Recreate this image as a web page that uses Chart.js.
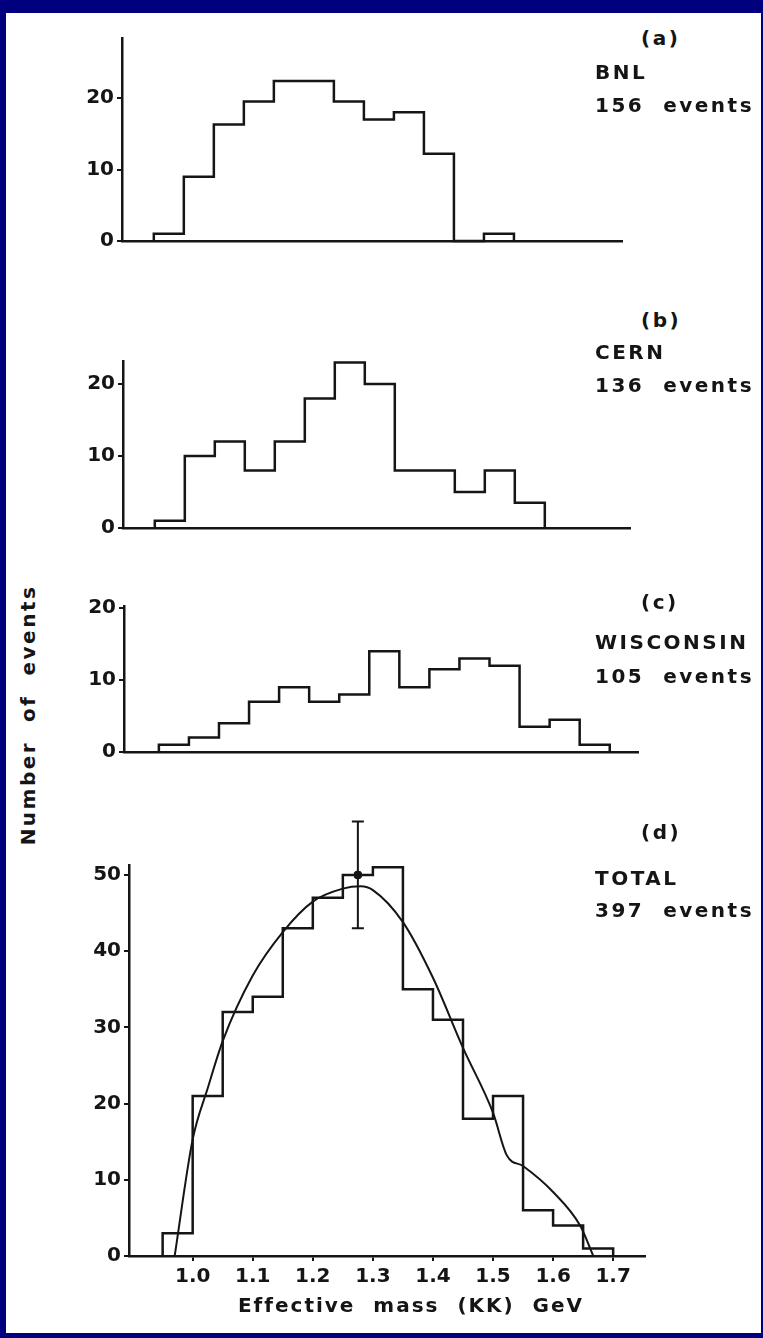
<!DOCTYPE html>
<html>
<head>
<meta charset="utf-8">
<script src="https://cdn.jsdelivr.net/npm/chart.js@4.4.0/dist/chart.umd.min.js"></script>
<style>
  html, body { margin: 0; padding: 0; }
  body { width: 763px; height: 1338px; background: #00007f; position: relative; overflow: hidden; }
  #sheet { position: absolute; left: 6px; top: 13px; width: 755px; height: 1320px; background: #fff; }
  canvas { position: absolute; }
  .lbl { position: absolute; font: bold 20px 'DejaVu Sans', sans-serif; letter-spacing: 2.5px; color: #151515; white-space: pre; line-height: 20px; }
  #ytitle { position: absolute; left: 28px; top: 715px; transform: translate(-50%, -50%) rotate(-90deg); }
  #xtitle { position: absolute; left: 411px; top: 1305px; transform: translate(-50%, -50%); letter-spacing: 2px; }
</style>
</head>
<body>
<div id="sheet"></div>
<canvas id="chartA"></canvas>
<canvas id="chartB"></canvas>
<canvas id="chartC"></canvas>
<canvas id="chartD"></canvas>

<div class="lbl" style="left:641px; top:28px;">(a)</div>
<div class="lbl" style="left:595px; top:62px;">BNL</div>
<div class="lbl" style="left:595px; top:95px;">156  events</div>

<div class="lbl" style="left:641px; top:310px;">(b)</div>
<div class="lbl" style="left:595px; top:342px;">CERN</div>
<div class="lbl" style="left:595px; top:375px;">136  events</div>

<div class="lbl" style="left:641px; top:592px;">(c)</div>
<div class="lbl" style="left:595px; top:632px;">WISCONSIN</div>
<div class="lbl" style="left:595px; top:666px;">105  events</div>

<div class="lbl" style="left:641px; top:822px;">(d)</div>
<div class="lbl" style="left:595px; top:868px;">TOTAL</div>
<div class="lbl" style="left:595px; top:900px;">397  events</div>

<div class="lbl" id="ytitle">Number  of  events</div>
<div class="lbl" id="xtitle">Effective  mass  (KK)  GeV</div>

<script>
// lower edges of the 0.05 GeV mass bins
const massBins = [0.95, 1.00, 1.05, 1.10, 1.15, 1.20, 1.25, 1.30, 1.35, 1.40, 1.45, 1.50, 1.55, 1.60, 1.65];
const binWidth = 0.05;

// events per bin
const bnlCounts = [1, 9, 16.3, 19.5, 22.4, 22.4, 19.5, 17, 18, 12.2, 0, 1];
const cernCounts = [1, 10, 12, 8, 12, 18, 23, 20, 8, 8, 5, 8, 3.5];
const wiscCounts = [1, 2, 4, 7, 9, 7, 8, 14, 9, 11.5, 13, 12, 3.5, 4.5, 1];
const totalCounts = [3, 21, 32, 34, 43, 47, 50, 51, 35, 31, 18, 21, 6, 4, 1];

// fitted curve drawn over the total
const fitMass = [0.97, 1.0, 1.025, 1.05, 1.1, 1.15, 1.2, 1.25, 1.28, 1.3, 1.35, 1.4, 1.45, 1.5, 1.523, 1.55, 1.6, 1.645, 1.667];
const fitCount = [0, 15.3, 22, 28.2, 36.8, 42.5, 46.5, 48.2, 48.5, 48.0, 43.8, 36.5, 27.3, 18.8, 13.2, 11.8, 8.4, 4.0, 0];

// the single error bar
const errMass = [1.275];
const errValue = [50];
const errLow = [43];
const errHigh = [57];

// tick labels
const smallTicks = [0, 10, 20];
const totalTicks = [0, 10, 20, 30, 40, 50];
const massTicks = [1.0, 1.1, 1.2, 1.3, 1.4, 1.5, 1.6, 1.7];

const ink = '#151515';
const tickFont = { family: 'DejaVu Sans', size: 20, weight: 'bold' };

function histPoints(counts) {
    const pts = [{ x: massBins[0], y: 0 }];
    counts.forEach((c, i) => pts.push({ x: massBins[i], y: c }));
    const end = massBins[counts.length - 1] + binWidth;
    pts.push({ x: end, y: counts[counts.length - 1] });
    pts.push({ x: end, y: 0 });
    return pts;
}

const errorBarPlugin = {
    id: 'errorBars',
    afterDatasetsDraw(chart, args, opts) {
        if (!opts.show) return;
        const { ctx, scales: { x, y } } = chart;
        ctx.save();
        ctx.strokeStyle = ink;
        ctx.lineWidth = 2;
        errMass.forEach((m, i) => {
            const px = x.getPixelForValue(m);
            const lo = y.getPixelForValue(errLow[i]);
            const hi = y.getPixelForValue(errHigh[i]);
            ctx.beginPath();
            ctx.moveTo(px, lo); ctx.lineTo(px, hi);
            ctx.moveTo(px - 6, lo); ctx.lineTo(px + 6, lo);
            ctx.moveTo(px - 6, hi); ctx.lineTo(px + 6, hi);
            ctx.stroke();
        });
        ctx.restore();
    }
};

function makePanel(id, box, counts, extra) {
    const yw = 60, padRight = 14;
    const padTop = extra ? 60 : 20;
    const xh = box.showX ? 50 : 6;
    const canvas = document.getElementById(id);
    const w = box.right - box.left + yw + padRight;
    const h = box.bottom - box.top + padTop + xh;
    canvas.width = w; canvas.height = h;
    canvas.style.left = (box.left - yw) + 'px';
    canvas.style.top = (box.top - padTop) + 'px';
    canvas.style.width = w + 'px';
    canvas.style.height = h + 'px';

    const datasets = [{
        type: 'line',
        data: histPoints(counts),
        stepped: true,
        borderColor: ink,
        borderWidth: 2.5,
        pointRadius: 0,
        fill: false,
        clip: false
    }];
    if (extra) {
        datasets.push({
            type: 'line',
            data: fitMass.map((m, i) => ({ x: m, y: fitCount[i] })),
            borderColor: ink,
            borderWidth: 2,
            pointRadius: 0,
            cubicInterpolationMode: 'monotone',
            fill: false
        });
        datasets.push({
            type: 'scatter',
            data: errMass.map((m, i) => ({ x: m, y: errValue[i] })),
            pointRadius: 4,
            pointBackgroundColor: ink,
            pointBorderColor: ink,
            clip: false
        });
    }

    return new Chart(canvas, {
        type: 'line',
        data: { datasets: datasets },
        plugins: [errorBarPlugin],
        options: {
            responsive: false,
            animation: false,
            layout: { padding: { top: padTop, right: padRight, left: 0, bottom: 0 } },
            plugins: {
                legend: { display: false },
                tooltip: { enabled: false },
                errorBars: { show: !!extra }
            },
            scales: {
                x: {
                    type: 'linear',
                    min: box.xMin,
                    max: box.xMax,
                    afterBuildTicks: (s) => { s.ticks = massTicks.map(v => ({ value: v })); },
                    afterFit: (s) => { s.height = xh; },
                    grid: { display: box.showX, drawOnChartArea: false, drawTicks: true, tickLength: 5, color: ink, lineWidth: 2 },
                    border: { display: true, color: ink, width: 2.5 },
                    ticks: {
                        display: box.showX,
                        color: ink,
                        font: tickFont,
                        padding: 4,
                        maxRotation: 0,
                        autoSkip: false,
                        callback: (v) => v.toFixed(1)
                    }
                },
                y: {
                    min: 0,
                    max: box.yMax,
                    afterBuildTicks: (s) => { s.ticks = box.yTicks.map(v => ({ value: v })); },
                    afterFit: (s) => { s.width = yw; },
                    grid: { display: true, drawOnChartArea: false, drawTicks: true, tickLength: 5, color: ink, lineWidth: 2 },
                    border: { display: true, color: ink, width: 2.5 },
                    ticks: { color: ink, font: tickFont, padding: 3 }
                }
            }
        }
    });
}

makePanel('chartA', { left: 122, right: 622, top: 38, bottom: 250, xMin: 0.897, xMax: 1.73, yMax: 28.4, yTicks: smallTicks, showX: false }, bnlCounts, false);
makePanel('chartB', { left: 123, right: 630, top: 361, bottom: 537, xMin: 0.897, xMax: 1.742, yMax: 23.2, yTicks: smallTicks, showX: false }, cernCounts, false);
makePanel('chartC', { left: 124, right: 638, top: 606, bottom: 761, xMin: 0.892, xMax: 1.747, yMax: 20.3, yTicks: smallTicks, showX: false }, wiscCounts, false);
makePanel('chartD', { left: 129, right: 645, top: 865, bottom: 1256, xMin: 0.894, xMax: 1.753, yMax: 51.3, yTicks: totalTicks, showX: true }, totalCounts, true);
</script>
</body>
</html>
